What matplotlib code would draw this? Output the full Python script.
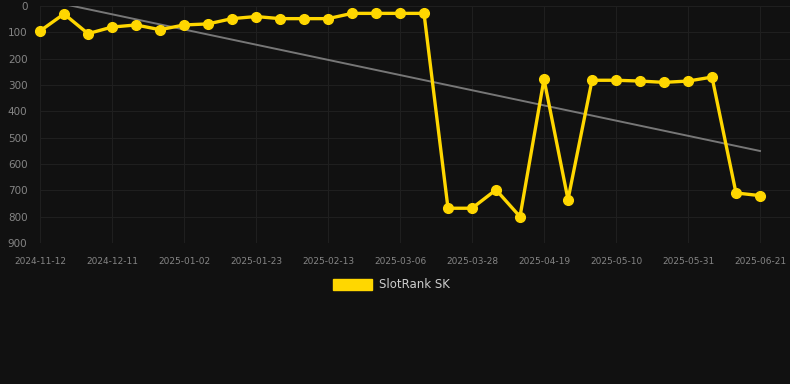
import matplotlib
matplotlib.use('Agg')
import matplotlib.pyplot as plt
import numpy as np

# weekly ranks
dates = ['2024-11-12', '2024-11-19', '2024-11-26', '2024-12-11', '2024-12-18', '2024-12-25',
         '2025-01-02', '2025-01-09', '2025-01-16', '2025-01-23', '2025-01-30', '2025-02-06',
         '2025-02-13', '2025-02-20', '2025-02-27', '2025-03-06', '2025-03-13', '2025-03-21',
         '2025-03-28', '2025-04-04', '2025-04-12', '2025-04-19', '2025-04-26', '2025-05-03',
         '2025-05-10', '2025-05-17', '2025-05-24', '2025-05-31', '2025-06-07', '2025-06-14',
         '2025-06-21']
ranks = [95, 30, 105, 80, 72, 90, 72, 68, 48, 40, 48, 48, 48, 28, 28, 28, 28,
         768, 768, 698, 800, 278, 735, 282, 282, 285, 290, 285, 270, 710, 720]
series_name = 'SlotRank SK'

bg = '#111111'
grid_col = '#1f1f1f'
text_col = '#858585'
gold = '#FFD700'

fig = plt.figure(figsize=(7.9, 3.84), dpi=100, facecolor=bg)
ax = fig.add_axes([40 / 790, 1 - 243 / 384, 750 / 790, 237 / 384], facecolor=bg)

x = np.arange(len(ranks))
ax.plot(x, ranks, color=gold, lw=2.4, marker='o', ms=7, zorder=3, clip_on=False)

# linear trend
k, b = np.polyfit(x, ranks, 1)
ax.plot(x, k * x + b, color='#777777', lw=1.4, zorder=2)

ax.set_ylim(900, 0)
ax.set_yticks(range(0, 1000, 100))
ax.set_xlim(0, (790 - 40) / 24)
ax.set_xticks(x[::3])
ax.set_xticklabels(dates[::3])

ax.grid(True, color=grid_col, lw=0.8)
ax.set_axisbelow(True)
for s in ax.spines.values():
    s.set_visible(False)
ax.tick_params(axis='both', colors=text_col, length=0)
ax.tick_params(axis='x', labelsize=6.5, pad=10)
ax.tick_params(axis='y', labelsize=7.5, pad=9)

# legend box
fig.patches.append(plt.Rectangle((333 / 790, 1 - 290 / 384), 39 / 790, 11 / 384,
                                 transform=fig.transFigure, color=gold))
fig.text(379 / 790, 1 - 285 / 384, series_name, color='#cccccc', fontsize=8.5, va='center')

fig.savefig('out.png', dpi=100, facecolor=bg)
